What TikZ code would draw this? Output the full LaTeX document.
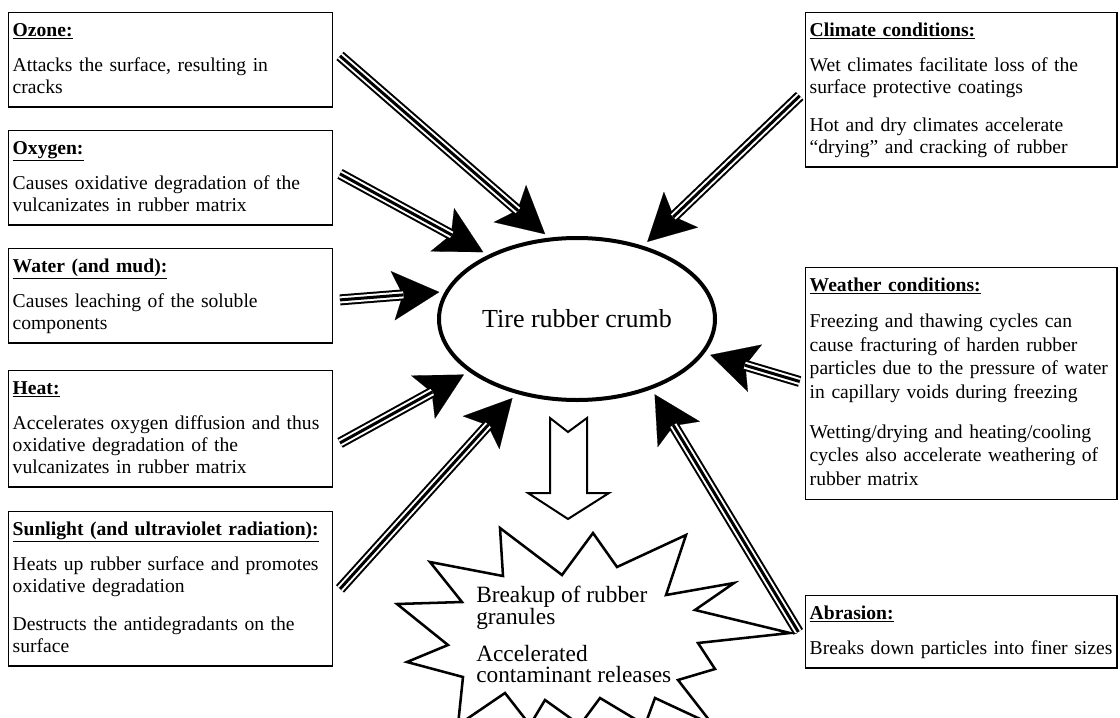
\documentclass[tikz,border=0pt]{standalone}
\usepackage{fontspec}
\setmainfont{Liberation Serif}
\usetikzlibrary{arrows.meta,shapes.geometric}

\newcommand{\boxtitle}[1]{\rule{0pt}{12pt}\underline{\textbf{#1}}\\[9.75pt]}
\newcommand{\boxend}{\rule[-5pt]{0pt}{5pt}}

\begin{document}
\begin{tikzpicture}
  [x=0.75pt,y=-0.75pt,
   box/.style={draw,line width=1.1pt,anchor=north west,align=left,
     inner xsep=3pt,inner ysep=5.5pt,font=\fontsize{14.7}{16.5}\selectfont},
   leftbox/.style={box,text width=236.9pt},
   rightbox/.style={box,text width=227.6pt},
   shaft/.style={line width=8.25pt,shorten >=6pt,
     -{Stealth[length=35pt,width=37pt,inset=7.5pt,line width=0.1pt]}},
   gap/.style={white,line width=5.25pt,shorten >=33pt},
   core/.style={line width=2.25pt,shorten >=33pt}]
  \useasboundingbox (0,0) rectangle (1120,717);

  % factors on the left
  \node[leftbox] (ozone) at (8,12)
    {\boxtitle{Ozone:}Attacks the surface, resulting in\\cracks\boxend};
  \node[leftbox] (oxygen) at (8,130)
    {\boxtitle{Oxygen:}Causes oxidative degradation of the\\vulcanizates in rubber matrix\boxend};
  \node[leftbox] (water) at (8,248)
    {\boxtitle{Water (and mud):}Causes leaching of the soluble\\components\boxend};
  \node[leftbox] (heat) at (8,370)
    {\boxtitle{Heat:}Accelerates oxygen diffusion and thus\\oxidative degradation of the\\vulcanizates in rubber matrix\boxend};
  \node[leftbox] (sun) at (8,511)
    {\boxtitle{Sunlight (and ultraviolet radiation):}Heats up rubber surface and promotes\\oxidative degradation\\[12pt]Destructs the antidegradants on the\\surface\boxend};

  % factors on the right
  \node[rightbox] (climate) at (805,12)
    {\boxtitle{Climate conditions:}Wet climates facilitate loss of the\\surface protective coatings\\[12pt]Hot and dry climates accelerate\\“drying” and cracking of rubber\boxend};
  \node[rightbox,font=\fontsize{14.7}{17.7}\selectfont] (weather) at (805,267)
    {\boxtitle{Weather conditions:}Freezing and thawing cycles can\\cause fracturing of harden rubber\\particles due to the pressure of water\\in capillary voids during freezing\\[12pt]Wetting/drying and heating/cooling\\cycles also accelerate weathering of\\rubber matrix\boxend};
  \node[rightbox] (abrasion) at (805,595)
    {\boxtitle{Abrasion:}Breaks down particles into finer sizes\boxend};

  % the crumb
  \node[draw,ellipse,line width=3pt,minimum width=207pt,minimum height=121.5pt,
    inner sep=0pt,outer sep=0pt,font=\fontsize{19.5}{22}\selectfont] (crumb) at (577,319)
    {Tire rubber crumb};

  % tails of the arrows
  \coordinate (ozone-t) at ([xshift=5pt,yshift=3pt]ozone.east);
  \coordinate (oxygen-t) at ([xshift=5pt,yshift=3pt]oxygen.east);
  \coordinate (water-t) at ([xshift=5pt,yshift=-3pt]water.east);
  \coordinate (heat-t) at ([xshift=5pt,yshift=-10.5pt]heat.east);
  \coordinate (sun-t) at ([xshift=5pt]sun.east);
  \coordinate (climate-t) at ([xshift=-4pt,yshift=-4.5pt]climate.west);
  \coordinate (weather-t) at ([xshift=-4pt,yshift=1.5pt]weather.west);
  \coordinate (abrasion-t) at ([xshift=-5pt]abrasion.west);

  \foreach \src/\ang in {ozone-t/108.6,oxygen-t/144.1,water-t/168.2,heat-t/206.2,
      sun-t/231.1,climate-t/48.1,weather-t/345.5,abrasion-t/317.6} {
    \draw[shaft] (\src) -- (crumb.\ang);
    \draw[gap] (\src) -- (crumb.\ang);
    \draw[core] (\src) -- (crumb.\ang);
  }

  % hollow arrow down
  \draw[line width=1.5pt,line join=miter] (550,418) -- (568,432) -- (587,418) -- (587,493)
    -- (609,493) -- (568,519) -- (528,493) -- (550,493) -- cycle;

  % burst
  \begin{scope}
    \clip (0,0) rectangle (1120,717);
    \draw[line width=1.9pt,line join=miter] (500,528) -- (562,575) -- (593,533) -- (617,567)
      -- (686,535) -- (666,595) -- (734,583) -- (695,610) -- (790,633) -- (698,643)
      -- (715,669) -- (678,680) -- (713,725) -- (655,698) -- (645,725) -- (600,698)
      -- (580,725) -- (545,700) -- (530,725) -- (505,693) -- (458,725) -- (463,677)
      -- (407,662) -- (448,645) -- (397,604) -- (462,602) -- (430,562) -- (503,576) -- cycle;
  \end{scope}
  \node[anchor=north west,align=left,inner sep=0pt,
    font=\fontsize{17.5}{16}\selectfont] (burst) at (476,586)
    {Breakup of rubber\\granules\\[11.75pt]Accelerated\\contaminant releases};
\end{tikzpicture}
\end{document}
